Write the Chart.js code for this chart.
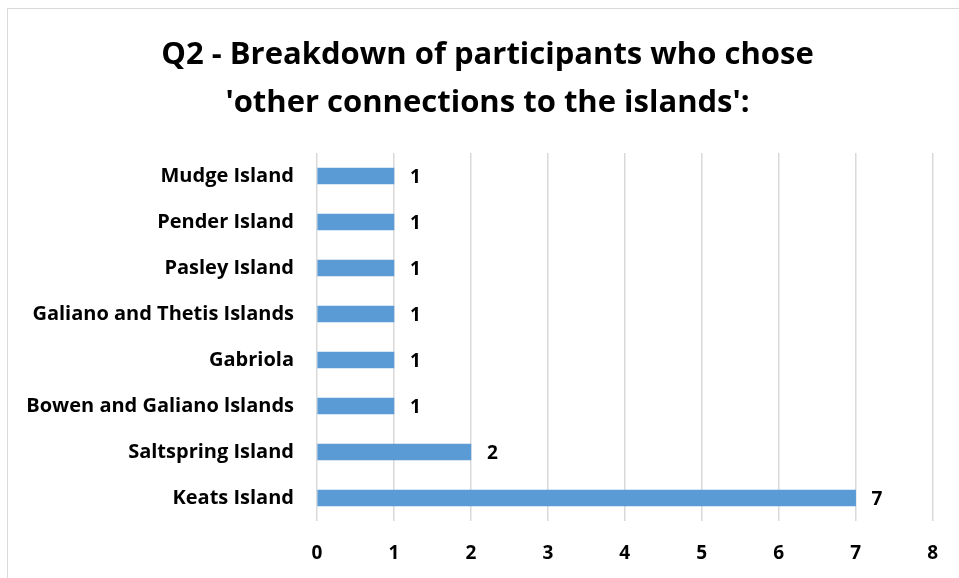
<!DOCTYPE html>
<html>
<head>
<meta charset="utf-8">
<script src="https://cdn.jsdelivr.net/npm/chart.js@4/dist/chart.umd.min.js"></script>
<style>
  html, body { margin: 0; padding: 0; background: #fff; overflow: hidden; }
  #frame { position: absolute; left: 7px; top: 8px; width: 970px; height: 600px; border: 1px solid #d9d9d9; }
  #wrap { position: absolute; left: 0; top: 0; width: 959px; height: 578px; }
</style>
</head>
<body>
<div id="frame"></div>
<div id="wrap"><canvas id="chart" width="959" height="578"></canvas></div>
<script>
// data
var islands = ["Mudge Island", "Pender Island", "Pasley Island", "Galiano and Thetis Islands",
               "Gabriola", "Bowen and Galiano lslands", "Saltspring Island", "Keats Island"];
var counts = [1, 1, 1, 1, 1, 1, 2, 7];
var xTicks = [0, 1, 2, 3, 4, 5, 6, 7, 8];
var titleLines = ["Q2 - Breakdown of participants who chose", "'other connections to the islands':"];

var fam = "'Open Sans', sans-serif";

// value labels at the bar ends
var barValues = {
    id: 'barValues',
    afterDatasetsDraw: function (chart) {
        var ctx = chart.ctx;
        var meta = chart.getDatasetMeta(0);
        ctx.save();
        ctx.font = "bold 19px " + fam;
        ctx.fillStyle = "#000";
        ctx.textAlign = "left";
        ctx.textBaseline = "middle";
        meta.data.forEach(function (bar, i) {
            ctx.fillText(String(counts[i]), bar.x + 16, bar.y + 2);
        });
        ctx.restore();
    }
};

// title sits a bit right of the canvas centre in the original
var shiftTitle = {
    id: 'shiftTitle',
    afterLayout: function (chart) {
        if (chart.titleBlock) {
            chart.titleBlock.left = 42;
            chart.titleBlock.right = 933;
        }
    }
};

var ctx = document.getElementById("chart").getContext("2d");
new Chart(ctx, {
    type: 'bar',
    data: {
        labels: islands,
        datasets: [{
            data: counts,
            backgroundColor: "#5b9bd5",
            borderWidth: 0,
            barThickness: 16
        }]
    },
    options: {
        indexAxis: 'y',
        responsive: false,
        animation: false,
        layout: { padding: { left: 0, right: 26, top: 0, bottom: 0 } },
        plugins: {
            legend: { display: false },
            tooltip: { enabled: false },
            title: {
                display: true,
                text: titleLines,
                color: "#000",
                font: { family: fam, size: 31, weight: 'bold', lineHeight: '48px' },
                padding: { top: 31, bottom: 26 }
            }
        },
        scales: {
            x: {
                min: 0,
                max: 8,
                afterBuildTicks: function (scale) {
                    scale.ticks = xTicks.map(function (v) { return { value: v }; });
                },
                afterFit: function (scale) { scale.height = 57; },
                grid: { color: "#d9d9d9", lineWidth: 1.5, drawTicks: false },
                border: { display: false },
                ticks: {
                    color: "#000",
                    padding: 21,
                    font: { family: fam, size: 19, weight: 'bold' }
                }
            },
            y: {
                afterFit: function (scale) { scale.width = 317; },
                grid: { display: false, drawTicks: false },
                border: { display: false },
                ticks: {
                    color: "#000",
                    padding: 23,
                    font: { family: fam, size: 20, weight: 'bold' }
                }
            }
        }
    },
    plugins: [barValues, shiftTitle]
});
</script>
</body>
</html>
